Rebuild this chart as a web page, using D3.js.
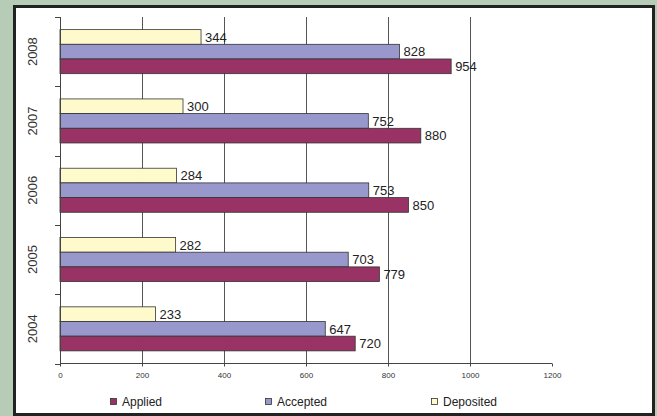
<!DOCTYPE html>
<html>
<head>
<meta charset="utf-8">
<script src="https://cdn.jsdelivr.net/npm/d3@7"></script>
<style>
  html, body { margin: 0; padding: 0; background: #b7ccb7; }
  svg { display: block; }
</style>
</head>
<body>
<div id="chart"></div>
<script>
// data
const years = ["2008", "2007", "2006", "2005", "2004"];
const applied = [954, 880, 850, 779, 720];
const accepted = [828, 752, 753, 703, 647];
const deposited = [344, 300, 284, 282, 233];
const seriesNames = ["Deposited", "Accepted", "Applied"];
const xTicks = [0, 200, 400, 600, 800, 1000, 1200];

const width = 657, height = 416;
const colors = { Applied: "#993366", Accepted: "#9898cc", Deposited: "#fffacc" };

const svg = d3.select("#chart").append("svg")
    .attr("width", width)
    .attr("height", height);

// white panel with dark frame
svg.append("rect")
    .attr("x", 14.5).attr("y", 6.5)
    .attr("width", 639).attr("height", 408)
    .attr("fill", "#fff")
    .attr("stroke", "#222")
    .attr("stroke-width", 3);

const x = d3.scaleLinear().domain([0, 1200]).range([60, 552]);
const y = d3.scaleBand().domain(years).range([17, 363.5]);
const inner = d3.scaleBand().domain(seriesNames).range([0, y.bandwidth()]).paddingOuter(0.86);

// vertical gridlines
svg.append("g")
    .selectAll("line")
    .data(xTicks.filter(d => d > 0 && d < 1200))
    .join("line")
    .attr("x1", d => Math.round(x(d)) + 0.5)
    .attr("x2", d => Math.round(x(d)) + 0.5)
    .attr("y1", 17)
    .attr("y2", 363.5)
    .attr("stroke", "#555")
    .attr("stroke-width", 1);

const rows = years.map((yr, i) => ({
    year: yr,
    values: { Applied: applied[i], Accepted: accepted[i], Deposited: deposited[i] }
}));

const group = svg.append("g")
    .selectAll("g")
    .data(rows)
    .join("g")
    .attr("transform", d => `translate(0,${y(d.year)})`);

const bars = group.selectAll("g")
    .data(d => seriesNames.map(s => ({ name: s, value: d.values[s] })))
    .join("g");

bars.append("rect")
    .attr("x", x(0))
    .attr("y", d => inner(d.name))
    .attr("width", d => x(d.value) - x(0))
    .attr("height", inner.bandwidth())
    .attr("fill", d => colors[d.name])
    .attr("stroke", "#333")
    .attr("stroke-width", 0.8);

bars.append("text")
    .attr("x", d => x(d.value) + 4)
    .attr("y", d => inner(d.name) + inner.bandwidth() / 2)
    .attr("dy", "0.36em")
    .attr("font-family", "Liberation Sans, Arial, sans-serif")
    .attr("font-size", "13px")
    .attr("fill", "#222")
    .text(d => d.value);

// x axis
const xAxis = svg.append("g")
    .attr("transform", "translate(0,363.5)")
    .call(d3.axisBottom(x).tickValues(xTicks).tickFormat(d3.format("d")).tickSize(3).tickPadding(6));
xAxis.select(".domain").attr("stroke", "#444").attr("d", `M${x(0)},0H${x(1200)}`);
xAxis.selectAll(".tick line").attr("stroke", "#444");
xAxis.selectAll("text")
    .attr("font-family", "Liberation Sans Narrow, Liberation Sans, Arial, sans-serif")
    .attr("font-size", "8px")
    .attr("fill", "#333");

// y axis: ticks between categories, labels rotated
const yAxis = svg.append("g").attr("transform", `translate(${x(0)},0)`);
yAxis.append("line")
    .attr("x1", 0.5).attr("x2", 0.5)
    .attr("y1", 17).attr("y2", 363.5)
    .attr("stroke", "#444");
yAxis.selectAll(".sep")
    .data(years.map(d => y(d)).concat([y.range()[1]]))
    .join("line")
    .attr("class", "sep")
    .attr("x1", -5).attr("x2", 0)
    .attr("y1", d => Math.round(d) + 0.5)
    .attr("y2", d => Math.round(d) + 0.5)
    .attr("stroke", "#444");
yAxis.selectAll(".ylab")
    .data(years)
    .join("text")
    .attr("class", "ylab")
    .attr("transform", d => `translate(-23,${y(d) + y.bandwidth() / 2}) rotate(-90)`)
    .attr("text-anchor", "middle")
    .attr("font-family", "Liberation Sans, Arial, sans-serif")
    .attr("font-size", "13px")
    .attr("fill", "#333")
    .text(d => d);

// legend
const legendItems = [
    { name: "Applied", x: 110 },
    { name: "Accepted", x: 265 },
    { name: "Deposited", x: 431 }
];
const legend = svg.append("g")
    .selectAll("g")
    .data(legendItems)
    .join("g")
    .attr("transform", d => `translate(${d.x},402)`);
legend.append("rect")
    .attr("x", 0.5).attr("y", -3.5)
    .attr("width", 6).attr("height", 6)
    .attr("fill", d => colors[d.name])
    .attr("stroke", "#333")
    .attr("stroke-width", 0.8);
legend.append("text")
    .attr("x", 12)
    .attr("y", 0)
    .attr("dy", "0.36em")
    .attr("font-family", "Liberation Sans, Arial, sans-serif")
    .attr("font-size", "12px")
    .attr("fill", "#222")
    .text(d => d.name);
</script>
</body>
</html>
